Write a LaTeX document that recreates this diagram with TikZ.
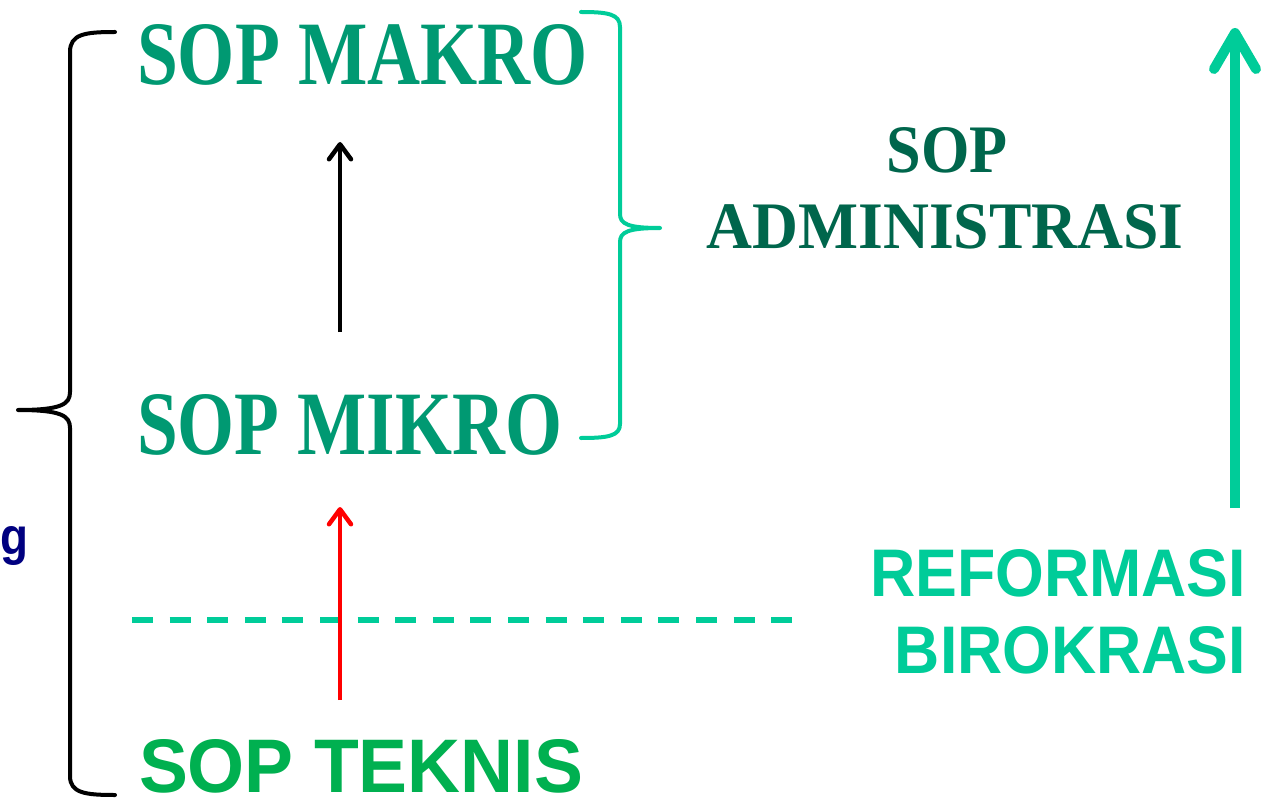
\documentclass[tikz,border=0pt]{standalone}
\usepackage{graphicx}
\usepackage{fontspec}
\setmainfont{Liberation Serif}
\newfontfamily\arialf{Liberation Sans}
\usetikzlibrary{arrows.meta}
\definecolor{sopgreen}{RGB}{0,153,114}
\definecolor{admgreen}{RGB}{0,102,76}
\definecolor{tekgreen}{RGB}{0,176,80}
\definecolor{mint}{RGB}{0,204,153}
\definecolor{navy}{RGB}{0,0,128}
\newcommand{\fitbox}[3]{\resizebox{#1}{#2}{#3}}
\tikzset{
  lbl/.style={inner sep=0pt, outer sep=0pt},
  bracepath/.style={line width=4pt, line cap=round, line join=round},
  smallarrow/.style={line width=4.5pt, -{Straight Barb[length=15pt,width=22pt,round]}},
  bigarrow/.style={line width=10pt, color=mint, -{Straight Barb[length=36pt,width=42pt,round]}},
  dashline/.style={line width=5.5pt, color=mint, dash pattern=on 21pt off 16.6pt}
}
\begin{document}
\begin{tikzpicture}[x=1pt,y=-1pt]
\useasboundingbox (0,0) rectangle (1268,802);

% texts
\node[lbl, anchor=base west, text=sopgreen] (makro) at (137,85) {\fitbox{451pt}{60pt}{\bfseries SOP MAKRO}};
\node[lbl, anchor=base west, text=sopgreen] (mikro) at (137,454) {\fitbox{425pt}{60pt}{\bfseries SOP MIKRO}};
\node[lbl, anchor=base west, text=tekgreen] (teknis) at (139,792) {\fitbox{444pt}{53pt}{\arialf\bfseries SOP TEKNIS}};
\node[lbl, anchor=base, text=admgreen] (sopadm) at (947,173) {\fitbox{121pt}{45pt}{\bfseries SOP}};
\node[lbl, anchor=base, text=admgreen] (adm) at (945,249) {\fitbox{477pt}{44pt}{\bfseries ADMINISTRASI}};
\node[lbl, anchor=base east, text=mint] (reform) at (1246,596) {\fitbox{376pt}{47pt}{\arialf\bfseries REFORMASI}};
\node[lbl, anchor=base east, text=mint] (biro) at (1246,673) {\fitbox{351pt}{47pt}{\arialf\bfseries BIROKRASI}};
\node[lbl, anchor=base west, text=navy] (gtxt) at (0.5,554) {\scalebox{0.88}[1]{\fontsize{52pt}{60pt}\selectfont\arialf\bfseries g}};

% black brace
\coordinate (bbtop) at (115,32);
\coordinate (bbtip) at (18,410);
\coordinate (bbbot) at (115,795);
\draw[bracepath, black] (bbtop) .. controls (85,32) and (70,34) .. (70,52) -- (70,392)
  .. controls (70,404) and (62,410) .. (bbtip)
  .. controls (62,410) and (70,416) .. (70,428) -- (70,776)
  .. controls (70,793) and (85,795) .. (bbbot);

% green brace
\coordinate (gbtop) at (581,12);
\coordinate (gbtip) at (660,228);
\coordinate (gbbot) at (581,438);
\draw[bracepath, mint] (gbtop) .. controls (608,12) and (620,14) .. (620,27) -- (620,214)
  .. controls (620,224) and (628,228) .. (gbtip)
  .. controls (628,228) and (620,232) .. (620,242) -- (620,424)
  .. controls (620,436) and (608,438) .. (gbbot);

% arrows
\coordinate (bk0) at (340,332);
\coordinate (bk1) at (340,142);
\draw[smallarrow, black] (bk0) -- (bk1);
\coordinate (rd0) at (340,700);
\coordinate (rd1) at (340,507);
\coordinate (ds0) at (132,620);
\coordinate (ds1) at (795,620);
\draw[dashline] (ds0) -- (ds1);
\draw[smallarrow, red] (rd0) -- (rd1);
\coordinate (gr0) at (1235,508);
\coordinate (gr1) at (1235,28);
\draw[bigarrow] (gr0) -- (gr1);
\end{tikzpicture}
\end{document}
